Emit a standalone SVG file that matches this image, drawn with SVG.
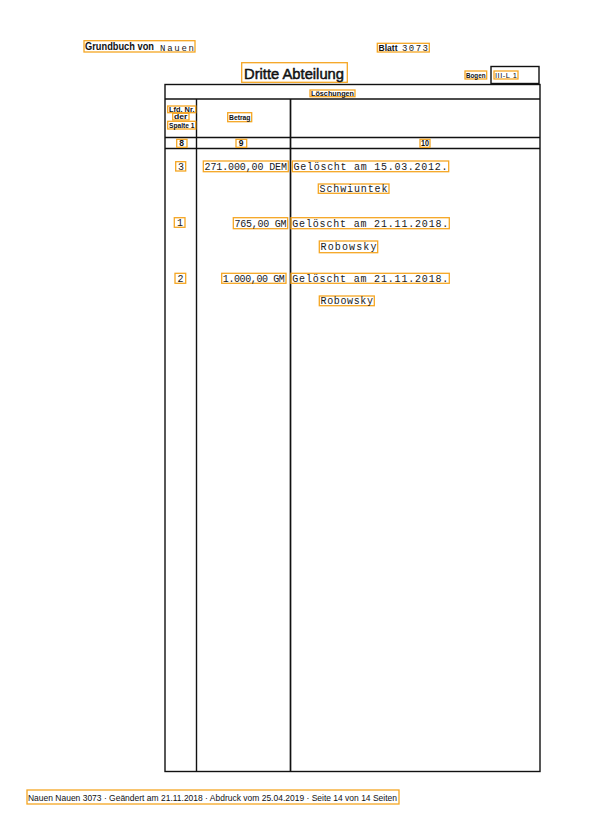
<svg xmlns="http://www.w3.org/2000/svg" width="597" height="839" viewBox="0 0 597 839">
<style>
.hl{fill:none;stroke:#F5A623;stroke-width:1.3}
.ln{stroke:#111;stroke-width:1.4;fill:none}
.sans{font-family:"Liberation Sans",Arial,sans-serif;fill:#111}
.lbl{font-family:"Liberation Sans",Arial,sans-serif;fill:#111;font-weight:bold}
.mono{font-family:"Liberation Mono","Courier New",monospace;fill:#1a1a1a}
</style>
<rect width="597" height="839" fill="#fff"/>
<g id="table">
<rect class="ln" x="165" y="84.5" width="375" height="687"/>
<line class="ln" x1="165" y1="99" x2="540" y2="99"/>
<line class="ln" x1="165" y1="137.5" x2="540" y2="137.5"/>
<line class="ln" x1="165" y1="148.5" x2="540" y2="148.5"/>
<line class="ln" x1="196.5" y1="99" x2="196.5" y2="771.5"/>
<line class="ln" x1="290.5" y1="99" x2="290.5" y2="771.5" style="stroke-width:1.7"/>
<rect class="ln" x="491" y="66.5" width="48" height="17"/>
</g>
<g id="header">
<rect class="hl" x="84" y="40.7" width="111" height="11.3"/>
<text class="lbl" x="85" y="50" font-size="10" textLength="69" lengthAdjust="spacingAndGlyphs">Grundbuch von</text>
<text class="mono" x="160" y="50.5" font-size="9" textLength="34" lengthAdjust="spacing">Nauen</text>
<rect class="hl" x="377.3" y="43.3" width="52" height="8.7"/>
<text class="lbl" x="378.5" y="50.7" font-size="9" textLength="19" lengthAdjust="spacingAndGlyphs">Blatt</text>
<text class="mono" x="402" y="51" font-size="9" textLength="26" lengthAdjust="spacing">3073</text>
<rect class="hl" x="241.7" y="62.7" width="105.6" height="19.6"/>
<text class="sans" x="244" y="78.5" font-size="15" stroke="#111" stroke-width="0.5" textLength="100" lengthAdjust="spacingAndGlyphs">Dritte Abteilung</text>
<rect class="hl" x="465" y="71" width="21.7" height="8"/>
<text class="lbl" x="466" y="77.8" font-size="7" textLength="19.5" lengthAdjust="spacingAndGlyphs">Bogen</text>
<rect class="hl" x="494" y="71" width="24" height="8"/>
<text class="sans" x="495" y="77.8" font-size="7.5" textLength="22" lengthAdjust="spacing">III-L  1</text>
</g>
<g id="columns">
<rect class="hl" x="310" y="90" width="45" height="6.7"/>
<text class="lbl" x="311" y="96" font-size="7" textLength="43" lengthAdjust="spacingAndGlyphs">Löschungen</text>
<rect class="hl" x="167.7" y="106" width="28" height="6.7"/>
<text class="lbl" x="169" y="112" font-size="7" textLength="25.5" lengthAdjust="spacingAndGlyphs">Lfd. Nr.</text>
<rect class="hl" x="172.7" y="113.3" width="16.3" height="6.7"/>
<text class="lbl" x="174" y="119.3" font-size="7" textLength="13.5" lengthAdjust="spacingAndGlyphs">der</text>
<rect class="hl" x="167.7" y="121.3" width="28" height="7.7"/>
<text class="lbl" x="169" y="127.8" font-size="7" textLength="25.5" lengthAdjust="spacingAndGlyphs">Spalte 1</text>
<rect class="hl" x="227.7" y="112.7" width="24" height="9"/>
<text class="lbl" x="229" y="120" font-size="7.5" textLength="21.5" lengthAdjust="spacingAndGlyphs">Betrag</text>
<rect class="hl" x="176.7" y="139.3" width="10.3" height="8"/>
<text class="lbl" x="179.3" y="146.3" font-size="8.5">8</text>
<rect class="hl" x="236" y="139.3" width="10.7" height="8"/>
<text class="lbl" x="238.8" y="146.3" font-size="8.5">9</text>
<rect class="hl" x="420" y="139.3" width="10" height="8"/>
<text class="lbl" x="421" y="146.3" font-size="8.5" textLength="8" lengthAdjust="spacingAndGlyphs">10</text>
</g>
<g id="entry-3">
<rect class="hl" x="175.7" y="161.7" width="10" height="9.3"/>
<text class="mono" x="178" y="169.8" font-size="10">3</text>
<rect class="hl" x="203.3" y="161" width="85" height="10.7"/>
<text class="mono" x="204.5" y="169.8" font-size="10" textLength="82.5" lengthAdjust="spacing">271.000,00 DEM</text>
<rect class="hl" x="292.3" y="161" width="156.4" height="10.7"/>
<text class="mono" x="293.5" y="169.8" font-size="10" textLength="154" lengthAdjust="spacing">Gelöscht am 15.03.2012.</text>
<rect class="hl" x="318.3" y="184" width="70.7" height="9.3"/>
<text class="mono" x="319.5" y="192" font-size="10" textLength="68" lengthAdjust="spacing">Schwiuntek</text>
</g>
<g id="entry-1">
<rect class="hl" x="174.3" y="217.7" width="10.7" height="9.6"/>
<text class="mono" x="177" y="226" font-size="10">1</text>
<rect class="hl" x="233.3" y="217.7" width="54.4" height="11"/>
<text class="mono" x="234.5" y="226.5" font-size="10" textLength="52" lengthAdjust="spacing">765,00 GM</text>
<rect class="hl" x="291" y="217.7" width="158.3" height="11"/>
<text class="mono" x="292.3" y="226.5" font-size="10" textLength="156" lengthAdjust="spacing">Gelöscht am 21.11.2018.</text>
<rect class="hl" x="319.3" y="241" width="58.4" height="11.7"/>
<text class="mono" x="320.5" y="250" font-size="10" textLength="56" lengthAdjust="spacing">Robowsky</text>
</g>
<g id="entry-2">
<rect class="hl" x="175" y="273.3" width="10.7" height="10"/>
<text class="mono" x="177.5" y="281.8" font-size="10">2</text>
<rect class="hl" x="221.7" y="273.3" width="64.3" height="10"/>
<text class="mono" x="222.8" y="281.8" font-size="10" textLength="62" lengthAdjust="spacing">1.000,00 GM</text>
<rect class="hl" x="291" y="273.3" width="158.3" height="10"/>
<text class="mono" x="292.3" y="281.8" font-size="10" textLength="156" lengthAdjust="spacing">Gelöscht am 21.11.2018.</text>
<rect class="hl" x="319.3" y="296" width="55" height="9.7"/>
<text class="mono" x="320.5" y="304.3" font-size="10" textLength="52.5" lengthAdjust="spacing">Robowsky</text>
</g>
<g id="footer">
<rect class="hl" x="27" y="790" width="372" height="14"/>
<text class="sans" x="28" y="800.5" font-size="9" textLength="369" lengthAdjust="spacingAndGlyphs">Nauen Nauen 3073 · Geändert am 21.11.2018 · Abdruck vom 25.04.2019 · Seite 14 von 14 Seiten</text>
</g>
</svg>
